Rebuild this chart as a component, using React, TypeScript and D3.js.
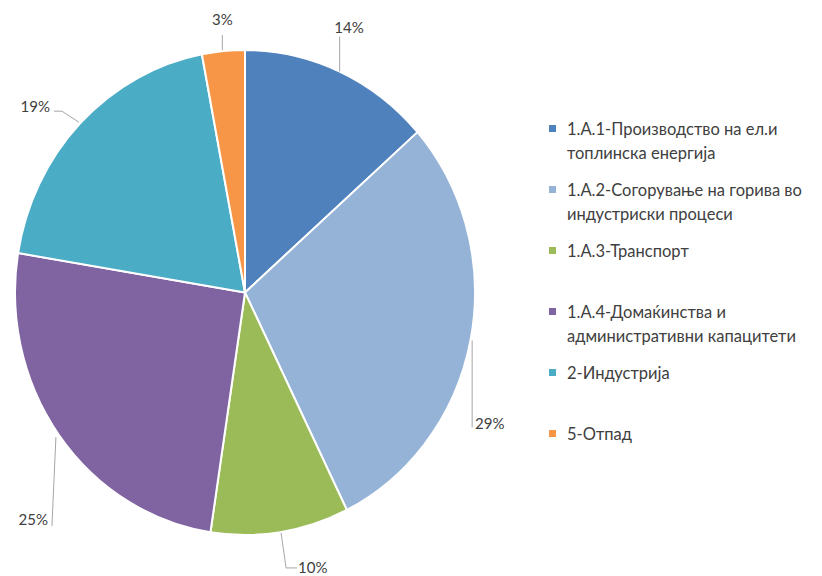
import React from "react";
import * as d3 from "d3";

const categories = [
  "1.А.1-Производство на ел.и топлинска енергија",
  "1.А.2-Согорување на горива во индустриски процеси",
  "1.А.3-Транспорт",
  "1.А.4-Домаќинства и административни капацитети",
  "2-Индустрија",
  "5-Отпад",
];
const legendLines = [
  ["1.А.1-Производство на ел.и", "топлинска енергија"],
  ["1.А.2-Согорување на горива во", "индустриски процеси"],
  ["1.А.3-Транспорт"],
  ["1.А.4-Домаќинства и", "административни капацитети"],
  ["2-Индустрија"],
  ["5-Отпад"],
];
// shares (%); labels show them rounded
const values = [13.5, 29.2, 9.7, 25.2, 19.4, 3.0];
const colors = ["#4F81BD", "#95B3D7", "#9BBB59", "#8064A2", "#4BACC6", "#F79646"];

// leader-line layout offsets relative to the slice's outer mid-point
const leaderPts: number[][][] = [
  [[0, 0], [0, -35]],
  [[1.5, 1], [1.5, 88]],
  [[0.8, 0.8], [5.8, 35.8], [16.8, 35.8]],
  [[-3, 2], [-7, 91]],
  [[-1.4, -1], [-18.4, -12], [-26.4, -12]],
  [[-1, -1], [-1, -16]],
];
const labelOffsets: number[][] = [
  [9.4, -38.5],
  [4.4, 89.4],
  [17.8, 40.8],
  [-11, 90],
  [-30.4, -11],
  [-1, -26],
];
const labelAnchors = ["middle", "start", "start", "end", "end", "middle"];

const W = 822;
const H = 576;
const cx = 245;
const cy = 292.5;
const rx = 230;
const ry = 242.5;

export default function App() {
  const pie = d3.pie<number>().sort(null).value((d) => d);
  const arcs = pie(values);
  const arc = d3.arc<d3.PieArcDatum<number>>().innerRadius(0).outerRadius(rx);
  const legendY = d3.scalePoint<number>().domain(d3.range(categories.length)).range([129, 434]);
  const font = "Lato, 'Open Sans', sans-serif";

  return (
    <svg width={W} height={H} style={{ position: "absolute", left: 0, top: 0, display: "block", background: "#fff" }}>
      <g transform={`translate(${cx},${cy}) scale(1,${ry / rx})`}>
        {arcs.map((a, i) => (
          <path
            key={i}
            d={arc(a) || ""}
            fill={colors[i]}
            stroke="#fff"
            strokeWidth={2}
            vectorEffect="non-scaling-stroke"
            strokeLinejoin="round"
          />
        ))}
      </g>
      {arcs.map((a, i) => {
        const mid = (a.startAngle + a.endAngle) / 2;
        const sx = cx + rx * Math.sin(mid);
        const sy = cy - ry * Math.cos(mid);
        const pts = leaderPts[i].map((p) => [sx + p[0], sy + p[1]] as [number, number]);
        const line = d3.line()(pts) || "";
        return (
          <g key={"l" + i}>
            <path d={line} fill="none" stroke="#A6A6A6" strokeWidth={1} />
            <text
              x={sx + labelOffsets[i][0]}
              y={sy + labelOffsets[i][1]}
              textAnchor={labelAnchors[i] as any}
              fontFamily={font}
              fontSize={15}
              fill="#404040"
            >
              {`${Math.round(values[i])}%`}
            </text>
          </g>
        );
      })}
      {categories.map((c, i) => {
        const y0 = legendY(i) as number;
        return (
          <g key={"lg" + i}>
            <rect x={549} y={y0 - 4} width={7} height={7} fill={colors[i]} />
            {legendLines[i].map((t, j) => (
              <text
                key={j}
                x={567}
                y={y0 + j * 24}
                dy="0.35em"
                fontFamily={font}
                fontSize={16.5}
                fill="#404040"
              >
                {t}
              </text>
            ))}
          </g>
        );
      })}
    </svg>
  );
}
